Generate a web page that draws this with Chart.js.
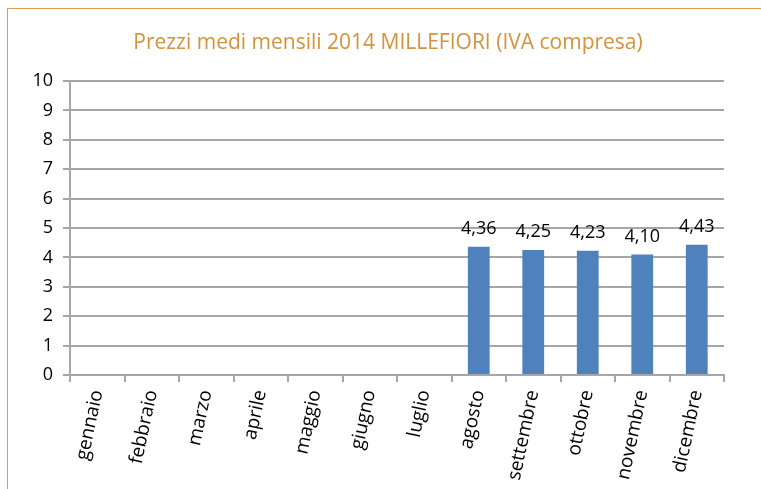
<!DOCTYPE html>
<html>
<head>
<meta charset="utf-8">
<script src="https://cdn.jsdelivr.net/npm/chart.js@4"></script>
<style>
  body { margin: 0; background: #fff; }
  #wrap { position: relative; width: 761px; height: 489px; overflow: hidden; }
  #frame { position: absolute; left: 7px; top: 8px; width: 900px; height: 700px;
           border-left: 1.5px solid #D9A04A; border-top: 1.5px solid #D9A04A; }
  #chart { position: absolute; left: 0; top: 0; }
</style>
</head>
<body>
<div id="wrap">
  <div id="frame"></div>
  <canvas id="chart" width="761" height="489"></canvas>
</div>
<script>
const chartTitle = 'Prezzi medi mensili 2014 MILLEFIORI (IVA compresa)';
const months = ['gennaio', 'febbraio', 'marzo', 'aprile', 'maggio', 'giugno', 'luglio',
                'agosto', 'settembre', 'ottobre', 'novembre', 'dicembre'];
const prices = [null, null, null, null, null, null, null, 4.36, 4.25, 4.23, 4.10, 4.43];
const yTicks = [0, 1, 2, 3, 4, 5, 6, 7, 8, 9, 10];

const gridColor = '#A6A6A6';
const barColor = '#4F81BD';
const titleColor = '#D4923A';

// title drawn by hand so it can sit centred on the frame, not the plot
const titlePlugin = {
    id: 'titlePlugin',
    afterDraw(chart) {
        const ctx = chart.ctx;
        ctx.save();
        ctx.font = '21px "Open Sans"';
        ctx.fillStyle = titleColor;
        ctx.textAlign = 'center';
        ctx.textBaseline = 'middle';
        ctx.fillText(chartTitle, 388, 43);
        ctx.restore();
    }
};

// values above the bars, italian decimal comma
const barLabels = {
    id: 'barLabels',
    afterDatasetsDraw(chart) {
        const ctx = chart.ctx;
        const meta = chart.getDatasetMeta(0);
        ctx.save();
        ctx.font = '18px "Open Sans"';
        ctx.fillStyle = '#000';
        ctx.textAlign = 'center';
        ctx.textBaseline = 'bottom';
        meta.data.forEach((bar, i) => {
            const v = prices[i];
            if (v === null) return;
            ctx.fillText(v.toFixed(2).replace('.', ','), bar.x, bar.y - 9);
        });
        ctx.restore();
    }
};

const ctx = document.getElementById('chart').getContext('2d');
new Chart(ctx, {
    type: 'bar',
    data: {
        labels: months,
        datasets: [{
            data: prices,
            backgroundColor: barColor,
            borderWidth: 0,
            barPercentage: 0.4,
            categoryPercentage: 1
        }]
    },
    options: {
        responsive: false,
        animation: false,
        layout: { padding: { left: 0, right: 37, top: 81, bottom: 0 } },
        plugins: {
            legend: { display: false },
            tooltip: { enabled: false },
            title: { display: false }
        },
        scales: {
            y: {
                min: 0,
                max: 10,
                afterBuildTicks(scale) {
                    scale.ticks = yTicks.map(v => ({ value: v }));
                },
                afterFit(scale) { scale.width = 70; },
                ticks: {
                    color: '#000',
                    font: { family: '"Open Sans"', size: 18 },
                    padding: 10
                },
                grid: { color: gridColor, lineWidth: 2, tickLength: 7 },
                border: { color: gridColor, width: 2 }
            },
            x: {
                afterFit(scale) { scale.height = 114; },
                ticks: {
                    color: '#000',
                    font: { family: '"Open Sans"', size: 19 },
                    minRotation: 78,
                    maxRotation: 78,
                    autoSkip: false,
                    padding: 6
                },
                grid: { drawOnChartArea: false, offset: true, color: gridColor, lineWidth: 2, tickLength: 7 },
                border: { color: gridColor, width: 2 }
            }
        }
    },
    plugins: [barLabels, titlePlugin]
});
</script>
</body>
</html>
